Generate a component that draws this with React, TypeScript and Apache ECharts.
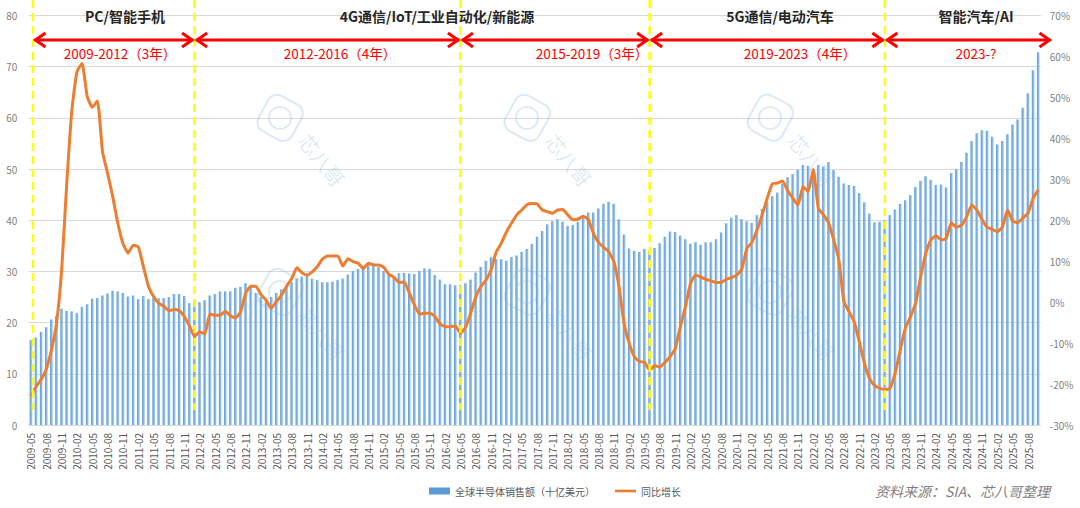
import React, { useEffect, useRef } from "react";
import * as echarts from "echarts";

// ---- categories: monthly, 2009-05 .. 2025-10 ----
const startYear = 2009;
const startMonth = 5;
const monthCount = 198;
const months: string[] = [];
for (let k = 0; k < monthCount; k++) {
  const m = startMonth - 1 + k;
  const y = startYear + Math.floor(m / 12);
  const mm = (m % 12) + 1;
  months.push(`${y}-${mm < 10 ? "0" + mm : mm}`);
}

// 全球半导体销售额（十亿美元）
const sales: number[] = [
  16.6, 17.1, 18.2, 19.1, 20.6, 21.3, 22.7, 22.3, 22.2, 21.9,
  23.1, 23.6, 24.7, 24.8, 25.3, 25.7, 26.2, 26.1, 25.8, 25.1,
  25.3, 24.6, 25.2, 24.6, 24.8, 24.8, 24.8, 25.0, 25.6, 25.6,
  25.2, 23.8, 24.4, 24.0, 24.4, 25.3, 25.6, 26.1, 26.1, 26.1,
  26.8, 27.0, 27.7, 27.0, 25.8, 25.0, 24.4, 25.0, 25.8, 26.5,
  27.2, 27.9, 28.6, 29.0, 29.1, 28.6, 28.3, 27.9, 27.9, 28.0,
  28.3, 28.6, 29.4, 30.1, 30.5, 31.1, 31.3, 31.3, 30.9, 30.1,
  29.4, 29.1, 29.7, 29.7, 29.6, 29.5, 30.1, 30.6, 30.5, 29.3,
  28.4, 27.5, 27.5, 27.3, 27.3, 27.7, 28.4, 29.8, 30.9, 32.1,
  32.8, 32.4, 32.4, 32.1, 32.8, 33.1, 33.8, 34.4, 35.4, 36.8,
  37.9, 39.2, 39.8, 40.2, 39.7, 38.9, 39.1, 39.7, 40.5, 41.5,
  41.5, 42.3, 43.2, 43.6, 43.2, 40.2, 37.2, 34.5, 34.0, 33.8,
  34.4, 34.0, 34.6, 35.5, 36.8, 37.8, 37.7, 37.0, 36.3, 35.4,
  35.7, 35.2, 35.7, 35.7, 36.3, 37.6, 39.4, 40.5, 41.0, 40.2,
  39.8, 39.5, 41.0, 42.2, 43.6, 44.7, 45.4, 47.1, 48.4, 49.0,
  49.9, 50.8, 50.6, 49.7, 50.8, 50.5, 51.4, 49.8, 48.5, 47.2,
  46.9, 46.7, 45.3, 43.5, 41.3, 39.6, 39.7, 40.0, 41.0, 42.1,
  43.2, 43.9, 44.9, 46.5, 47.7, 48.6, 47.9, 46.9, 47.0, 46.4,
  49.2, 50.0, 51.4, 53.2, 55.5, 57.0, 57.6, 57.5, 56.3, 54.8,
  55.5, 56.8, 58.7, 59.7, 62.0, 64.8, 69.3, 72.8,
];

// 同比增长 (%)
const growth: number[] = [
  -23.1, -20.6, -18.9, -16.3, -11.7, -5.2, 7.8, 29.0, 46.9, 56.3,
  58.3, 50.2, 47.6, 49.1, 36.7, 31.4, 25.7, 19.2, 14.3, 12.0,
  13.9, 13.5, 8.6, 3.8, 1.3, -0.3, -1.0, -2.1, -1.8, -2.1,
  -3.5, -5.8, -8.4, -7.2, -7.8, -2.9, -3.2, -3.2, -2.2, -3.3,
  -3.8, -2.4, 2.2, 3.9, 3.9, 1.8, 0.5, -1.5, 0.1, 1.7,
  3.9, 5.8, 8.4, 7.2, 6.6, 7.4, 8.7, 10.5, 11.3, 11.3,
  11.3, 8.8, 10.6, 9.9, 9.5, 8.2, 9.5, 9.1, 9.1, 8.5,
  6.8, 6.1, 4.8, 4.9, 2.2, -0.7, -2.9, -2.7, -2.7, -3.5,
  -5.3, -6.0, -6.0, -5.8, -7.6, -6.1, -2.7, 1.3, 3.8, 5.4,
  7.9, 12.3, 14.4, 17.2, 19.3, 21.3, 22.5, 23.8, 24.1, 24.0,
  22.5, 22.1, 21.7, 22.5, 22.6, 21.3, 20.1, 20.3, 21.0, 20.2,
  16.8, 14.6, 13.4, 12.3, 9.9, 3.8, -5.2, -10.0, -13.3, -14.5,
  -14.7, -16.6, -15.5, -15.9, -14.7, -13.3, -11.3, -6.0, -1.1, 4.6,
  6.6, 6.1, 5.6, 5.2, 4.8, 4.8, 5.6, 6.0, 6.6, 8.0,
  13.1, 14.6, 17.6, 21.3, 25.4, 28.9, 29.1, 29.6, 27.2, 25.4,
  23.7, 28.2, 27.0, 32.4, 22.9, 21.3, 19.3, 15.2, 10.3, 0.1,
  -2.3, -4.8, -9.7, -14.9, -18.6, -20.4, -21.0, -21.4, -21.0, -17.4,
  -11.7, -6.4, -3.6, -0.3, 6.2, 11.9, 15.2, 16.2, 15.2, 15.6,
  19.4, 18.3, 18.8, 20.9, 23.7, 22.5, 20.2, 18.3, 17.8, 17.2,
  18.4, 22.5, 19.8, 19.4, 20.6, 21.7, 25.4, 27.4,
];

// cycle boundaries (categories) and annotations
const dividers: string[] = ["2009-05", "2012-01", "2016-05", "2019-06", "2023-04"];
const themes: string[] = ["PC/智能手机", "4G通信/IoT/工业自动化/新能源", "5G通信/电动汽车", "智能汽车/AI"];
const themeX: number[] = [125, 437, 780, 976];
const periods: string[] = ["2009-2012（3年）", "2012-2016（4年）", "2015-2019（3年）", "2019-2023（4年）", "2023-?"];
const periodX: number[] = [120, 340, 592, 800, 976];

const SALES_NAME = "全球半导体销售额（十亿美元）";
const GROWTH_NAME = "同比增长";
const FONT = "'Noto Sans CJK SC', 'Noto Sans', sans-serif";

export default function App() {
  const ref = useRef<HTMLDivElement>(null);
  useEffect(() => {
    if (!ref.current) return;
    const chart = echarts.init(ref.current, null, { renderer: "svg" });
    const barColor = new echarts.graphic.LinearGradient(0, 0, 1, 0, [
      { offset: 0, color: "#5B9BD5" },
      { offset: 0.45, color: "#7DB1E2" },
      { offset: 1, color: "#A9CDEF" },
    ]);
    const option: any = {
      animation: false,
      backgroundColor: "#ffffff",
      textStyle: { fontFamily: FONT },
      grid: { left: 28.4, right: 39.2, top: 15.5, bottom: 83, containLabel: false },
      legend: {
        left: 424,
        top: 481,
        itemWidth: 21,
        itemHeight: 7,
        itemGap: 20,
        textStyle: { fontSize: 10, color: "#595959", fontFamily: FONT },
        data: [
          { name: SALES_NAME, icon: "rect", itemStyle: { color: "#5B9BD5" } },
          { name: GROWTH_NAME, icon: "path://M0 0H24V3H0Z" },
        ],
      },
      xAxis: {
        type: "category",
        data: months,
        boundaryGap: true,
        axisLine: { lineStyle: { color: "#d9d9d9" } },
        axisTick: { show: false },
        axisLabel: {
          rotate: 90,
          interval: 2,
          fontSize: 10,
          color: "#595959",
          margin: 8,
          fontFamily: FONT,
        },
      },
      yAxis: [
        {
          type: "value",
          min: 0,
          max: 80,
          interval: 10,
          axisLine: { show: false },
          axisTick: { show: false },
          axisLabel: { fontSize: 10, color: "#7f7f7f", margin: 11, fontFamily: FONT },
          splitLine: { lineStyle: { color: "#d9d9d9", width: 1 } },
        },
        {
          type: "value",
          min: -30,
          max: 70,
          interval: 10,
          axisLine: { show: false },
          axisTick: { show: false },
          axisLabel: { fontSize: 10, color: "#7f7f7f", margin: 9, formatter: "{value}%", fontFamily: FONT },
          splitLine: { show: false },
        },
      ],
      series: [
        {
          name: SALES_NAME,
          type: "bar",
          data: sales,
          barWidth: "52%",
          itemStyle: { color: barColor },
          yAxisIndex: 0,
          z: 2,
        },
        {
          name: GROWTH_NAME,
          type: "line",
          data: growth,
          yAxisIndex: 1,
          symbol: "none",
          smooth: 0.15,
          lineStyle: { color: "#ED7D31", width: 3, join: "round" },
          itemStyle: { color: "#ED7D31" },
          z: 4,
        },
      ],
    };
    chart.setOption(option);

    const xs = dividers.map((d) => chart.convertToPixel({ xAxisIndex: 0 }, d) as number);
    xs[0] = xs[0] + 2;
    const arrowEnd = 1052;
    const arrowY = 40;
    const graphics: any[] = [];

    // watermarks
    const wmCols = [280, 527, 770];
    const wmRows = [118, 292];
    wmCols.forEach((cx) => {
      wmRows.forEach((cy) => {
        graphics.push({
          type: "rect",
          shape: { x: cx - 19, y: cy - 20, width: 38, height: 40, r: 10 },
          rotation: -0.5,
          originX: cx,
          originY: cy,
          style: { fill: null, stroke: "rgba(91,155,213,0.22)", lineWidth: 2 },
          z: 1,
          silent: true,
        });
        graphics.push({
          type: "circle",
          shape: { cx, cy, r: 11 },
          style: { fill: null, stroke: "rgba(91,155,213,0.2)", lineWidth: 2 },
          z: 1,
          silent: true,
        });
        graphics.push({
          type: "text",
          x: cx + 42,
          y: cy + 42,
          rotation: -0.9,
          style: {
            text: "芯八哥",
            fill: "rgba(91,155,213,0.22)",
            fontSize: 20,
            fontFamily: FONT,
            align: "center",
            verticalAlign: "middle",
          },
          z: 1,
          silent: true,
        });
      });
    });

    // yellow dashed dividers
    xs.forEach((x) => {
      graphics.push({
        type: "line",
        shape: { x1: x, y1: 0, x2: x, y2: 410 },
        style: { stroke: "#FFFF00", lineWidth: 2.5, lineDash: [8, 5] },
        z: 5,
        silent: true,
      });
    });

    // red double arrows
    const ends = [...xs, arrowEnd];
    for (let k = 0; k < ends.length - 1; k++) {
      const a = ends[k] + 1.5;
      const b = ends[k + 1] - 1.5;
      graphics.push({
        type: "line",
        shape: { x1: a, y1: arrowY, x2: b, y2: arrowY },
        style: { stroke: "#FF0000", lineWidth: 3 },
        z: 6,
        silent: true,
      });
      graphics.push({
        type: "polyline",
        shape: { points: [[a + 11, arrowY - 7], [a + 1, arrowY], [a + 11, arrowY + 7]] },
        style: { stroke: "#FF0000", lineWidth: 3, fill: null, lineJoin: "miter" },
        z: 6,
        silent: true,
      });
      graphics.push({
        type: "polyline",
        shape: { points: [[b - 11, arrowY - 7], [b - 1, arrowY], [b - 11, arrowY + 7]] },
        style: { stroke: "#FF0000", lineWidth: 3, fill: null, lineJoin: "miter" },
        z: 6,
        silent: true,
      });
    }

    // theme headers
    themes.forEach((t, k) => {
      graphics.push({
        type: "text",
        x: themeX[k],
        y: 16,
        style: {
          text: t,
          fill: "#262626",
          fontSize: 14,
          fontWeight: "bold",
          fontFamily: FONT,
          align: "center",
          verticalAlign: "middle",
        },
        z: 6,
      });
    });

    // period labels
    periods.forEach((t, k) => {
      graphics.push({
        type: "text",
        x: periodX[k],
        y: 53,
        style: {
          text: t,
          fill: "#FF0000",
          fontSize: 13.5,
          fontFamily: FONT,
          align: "center",
          verticalAlign: "middle",
        },
        z: 6,
      });
    });

    // source
    graphics.push({
      type: "text",
      x: 875,
      y: 491,
      style: {
        text: "资料来源：SIA、芯八哥整理",
        fill: "#7f7f7f",
        fontSize: 14,
        fontStyle: "italic",
        fontFamily: FONT,
        align: "left",
        verticalAlign: "middle",
      },
      z: 6,
    });

    chart.setOption({ graphic: graphics });

    return () => {
      chart.dispose();
    };
  }, []);

  return (
    <div
      ref={ref}
      style={{ position: "fixed", left: 0, top: 0, width: 1080, height: 508, background: "#fff" }}
    />
  );
}
